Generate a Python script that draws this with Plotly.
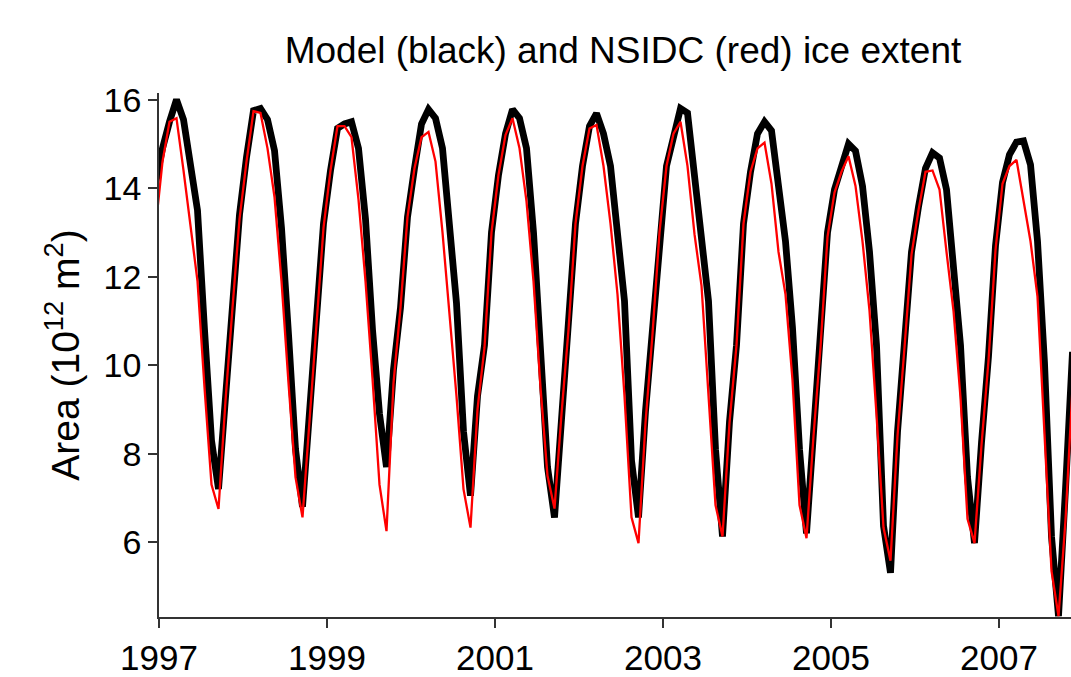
import numpy as np
import plotly.graph_objects as go

# Monthly series, starting December 1996 (values in 10^12 m^2)
start_year = 1996
start_month = 12  # December

model_black = [
    14.1,
    14.9, 15.5, 16.0, 15.55, 14.5, 13.5, 10.8, 8.3, 7.2, 9.4, 11.5, 13.4,      # 1997
    14.7, 15.75, 15.8, 15.55, 14.85, 13.1, 10.7, 8.1, 6.8, 8.9, 11.2, 13.2,    # 1998
    14.4, 15.35, 15.45, 15.5, 14.9, 13.3, 10.8, 8.9, 7.7, 9.9, 11.3, 13.35,    # 1999
    14.45, 15.45, 15.78, 15.58, 14.9, 13.2, 11.4, 8.5, 7.05, 9.3, 10.45, 13.0, # 2000
    14.3, 15.23, 15.78, 15.58, 14.9, 13.0, 10.45, 7.7, 6.56, 8.9, 10.8, 13.2,  # 2001
    14.5, 15.4, 15.69, 15.23, 14.5, 13.0, 11.45, 7.85, 6.56, 8.96, 10.8, 13.0, # 2002
    14.5, 15.15, 15.8, 15.7, 14.37, 12.96, 11.45, 8.1, 6.13, 8.72, 10.45, 13.2,# 2003
    14.37, 15.23, 15.5, 15.3, 13.97, 12.8, 10.84, 8.1, 6.2, 8.5, 10.45, 13.0,  # 2004
    13.97, 14.45, 15.0, 14.84, 14.05, 12.56, 10.45, 6.37, 5.31, 8.49, 10.45, 12.56, # 2005
    13.58, 14.45, 14.8, 14.68, 13.97, 12.4, 10.45, 7.47, 5.98, 8.25, 10.2, 12.7,    # 2006
    14.13, 14.76, 15.04, 15.07, 14.53, 12.8, 10.05, 6.13, 4.33, 7.2, 10.3,          # 2007
]

nsidc_red = [
    13.1,
    14.6, 15.5, 15.58, 14.4, 13.2, 11.9, 9.5, 7.3, 6.75, 9.2, 11.3, 13.3,      # 1997
    14.6, 15.74, 15.7, 14.9, 13.8, 11.9, 9.6, 7.47, 6.56, 8.8, 11.1, 13.1,     # 1998
    14.4, 15.4, 15.4, 15.15, 13.74, 11.9, 9.7, 7.3, 6.25, 9.6, 11.3, 13.35,    # 1999
    14.45, 15.15, 15.27, 14.6, 13.0, 11.2, 9.3, 7.2, 6.33, 9.0, 10.4, 13.0,    # 2000
    14.3, 15.2, 15.58, 14.9, 13.7, 11.9, 9.5, 7.5, 6.76, 8.9, 10.8, 13.2,      # 2001
    14.5, 15.35, 15.43, 14.5, 13.2, 11.6, 9.3, 6.56, 5.98, 8.7, 10.7, 13.0,    # 2002
    14.5, 15.23, 15.5, 14.5, 12.96, 11.8, 9.3, 6.84, 6.13, 8.7, 10.45, 13.2,   # 2003
    14.37, 14.9, 15.03, 14.1, 12.56, 11.6, 9.66, 6.84, 6.09, 8.4, 10.4, 12.9,  # 2004
    13.9, 14.37, 14.72, 14.05, 12.8, 11.23, 8.88, 6.33, 5.58, 8.4, 10.4, 12.5, # 2005
    13.5, 14.37, 14.4, 13.97, 12.56, 11.23, 9.27, 6.53, 5.98, 8.2, 10.1, 12.6, # 2006
    14.1, 14.5, 14.64, 13.74, 12.8, 11.55, 8.49, 5.35, 4.33, 6.5, 9.5,         # 2007
]

x_tick_years = [1997, 1999, 2001, 2003, 2005, 2007]
y_tick_values = [6, 8, 10, 12, 14, 16]

# mid-month decimal-year time axis
n = len(model_black)
t = start_year + (start_month - 1 + np.arange(n) + 0.5) / 12.0

FONT = "Arial, Liberation Sans, sans-serif"

fig = go.Figure()
fig.add_trace(go.Scatter(x=t, y=model_black, mode="lines",
                         line=dict(color="black", width=6.8), name="Model",
                         showlegend=False))
fig.add_trace(go.Scatter(x=t, y=nsidc_red, mode="lines",
                         line=dict(color="#ff0000", width=2.3), name="NSIDC",
                         showlegend=False))

fig.update_layout(
    width=1071, height=677,
    margin=dict(l=159, r=0, t=93, b=60),
    paper_bgcolor="white", plot_bgcolor="white",
    font=dict(family=FONT, color="black"),
    title=dict(text="Model (black) and NSIDC (red) ice extent",
               x=623 / 1071, xanchor="center", xref="container",
               y=1 - 50 / 677, yanchor="middle", yref="container",
               font=dict(size=37, family=FONT, color="black")),
)

fig.update_xaxes(
    range=[1997, 1997 + (1071 - 159) / 84.0],
    tickmode="array", tickvals=x_tick_years, ticktext=[str(v) for v in x_tick_years],
    showline=True, linecolor="#333333", linewidth=1.5,
    ticks="outside", ticklen=9, tickwidth=1.5, tickcolor="#333333",
    showgrid=False, zeroline=False,
    tickfont=dict(size=35, family=FONT, color="black"),
    automargin=False,
)
fig.update_yaxes(
    range=[4.31, 16.15],
    tickmode="array", tickvals=y_tick_values, ticktext=[str(v) for v in y_tick_values],
    showline=True, linecolor="#333333", linewidth=1.5,
    ticks="outside", ticklen=9, tickwidth=1.5, tickcolor="#333333",
    showgrid=False, zeroline=False,
    tickfont=dict(size=34, family=FONT, color="black"),
    title=dict(text="Area (10<sup>12</sup> m<sup>2</sup>)",
               font=dict(size=39, family=FONT, color="black"), standoff=12),
    automargin=False,
)

fig.write_html("out.html")
